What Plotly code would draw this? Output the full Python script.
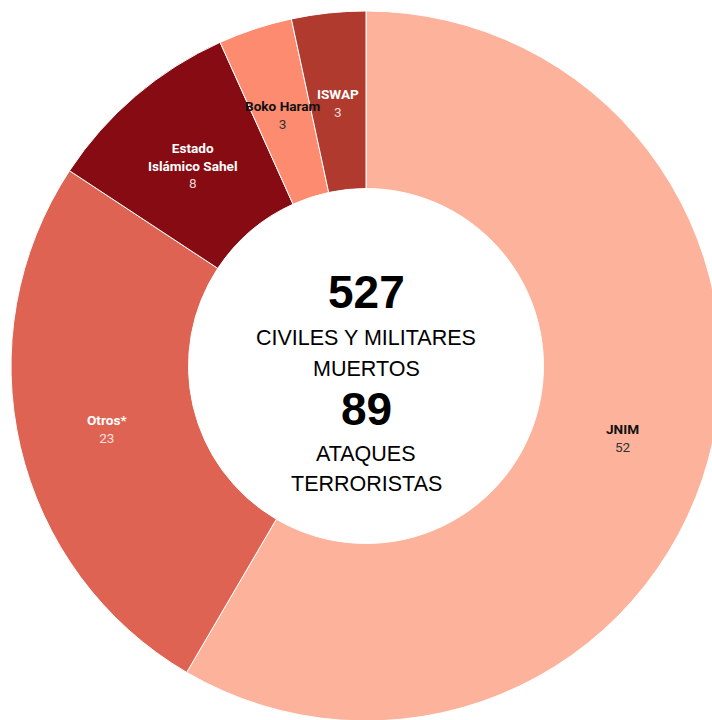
import math
import plotly.graph_objects as go

# ---- data ----
groups = ["JNIM", "Otros*", "Estado<br>Islámico Sahel", "Boko Haram", "ISWAP"]
attacks = [52, 23, 8, 3, 3]
slice_colors = ["#FDB39B", "#DF6352", "#870B12", "#FC8B6F", "#B03A2E"]
name_colors = ["#111111", "#FFFFFF", "#FFFFFF", "#111111", "#FFFFFF"]
value_colors = ["#333333", "rgba(255,255,255,0.82)", "rgba(255,255,255,0.82)",
                "#333333", "rgba(255,255,255,0.82)"]
total_deaths = 527
total_attacks = 89
deaths_label = ["CIVILES Y MILITARES", "MUERTOS"]
attacks_label = ["ATAQUES", "TERRORISTAS"]

W, H = 732, 732
M = 11
PLOT = W - 2 * M
HOLE = 0.5


def py(pix):
    """pixel y (from top) -> paper y"""
    return (H - M - pix) / PLOT


fig = go.Figure(go.Pie(
    labels=groups,
    values=attacks,
    hole=HOLE,
    sort=False,
    direction="clockwise",
    rotation=0,
    marker=dict(colors=slice_colors, line=dict(color="#FFFFFF", width=1)),
    textinfo="none",
    hoverinfo="label+value",
    showlegend=False,
))

annotations = []
total = sum(attacks)
cum = 0
r_mid = (1 + HOLE) / 4  # mid radius as fraction of plot size
label_shift = 2 / PLOT  # nudge labels slightly downward
for name, v, nc, vc in zip(groups, attacks, name_colors, value_colors):
    theta = (cum + v / 2) / total * 2 * math.pi
    cum += v
    x = 0.5 + r_mid * math.sin(theta)
    y = 0.5 + r_mid * math.cos(theta) - label_shift
    annotations.append(dict(
        x=x, y=y, xref="paper", yref="paper", showarrow=False,
        xanchor="center", yanchor="middle", align="center",
        text=f"<b><span style='color:{nc}'>{name}</span></b><br>"
             f"<span style='color:{vc}'>{v}</span>",
        font=dict(family="Roboto", size=13.6),
    ))

center_font = "Liberation Sans, Arial, sans-serif"
center_items = [
    (f"<b>{total_deaths}</b>", 46, 292),
    (deaths_label[0], 21.5, 338),
    (deaths_label[1], 21.5, 369),
    (f"<b>{total_attacks}</b>", 46, 409),
    (attacks_label[0], 21.5, 454),
    (attacks_label[1], 21.5, 484),
]
for txt, size, pix in center_items:
    annotations.append(dict(
        x=0.5, y=py(pix), xref="paper", yref="paper", showarrow=False,
        xanchor="center", yanchor="middle", text=txt,
        font=dict(family=center_font, size=size, color="#000000"),
    ))

fig.update_layout(
    width=W, height=H,
    margin=dict(l=M, r=M, t=M, b=M),
    paper_bgcolor="#FFFFFF",
    plot_bgcolor="#FFFFFF",
    annotations=annotations,
)

fig.write_html(
    "out.html",
    config={"displayModeBar": False},
    post_script="document.body.style.margin='0';document.body.style.overflow='hidden';",
)
